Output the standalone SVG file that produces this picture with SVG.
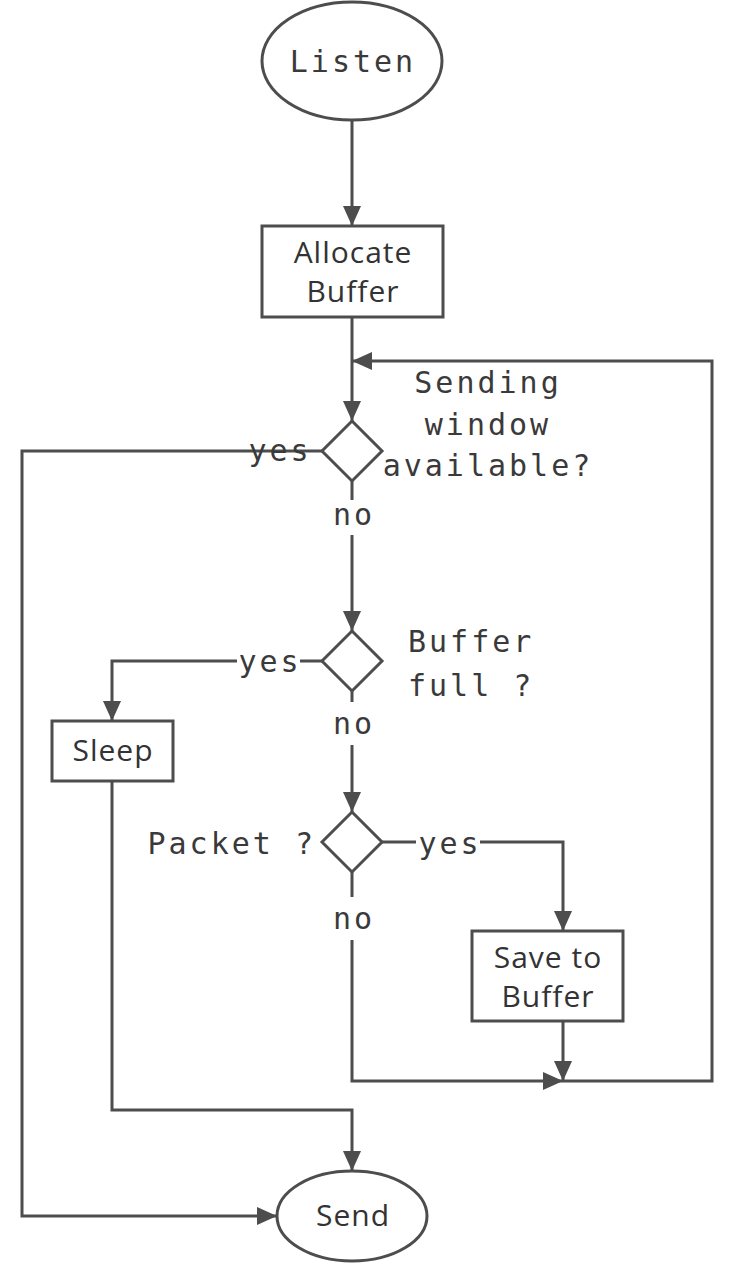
<svg xmlns="http://www.w3.org/2000/svg" width="738" height="1266" viewBox="0 0 738 1266">
<defs>
<style>
.shape{fill:#fff;stroke:#4d4d4d;stroke-width:3}
.edge{fill:none;stroke:#4d4d4d;stroke-width:3}
.sans{font-family:"Open Sans","Lato",sans-serif;font-size:30px;fill:#333;text-anchor:middle;letter-spacing:1px}
.mono{font-family:"DejaVu Sans Mono","Liberation Mono",monospace;font-size:30px;fill:#3a3a3a;letter-spacing:3px}
</style>
<marker id="arr" markerWidth="20" markerHeight="18" refX="20" refY="9" orient="auto" markerUnits="userSpaceOnUse">
<path d="M0,0 L20,9 L0,18 Z" fill="#4d4d4d"/>
</marker>
</defs>
<rect width="738" height="1266" fill="#fff"/>
<g id="connectors">
<path class="edge" d="M352,121 V226" marker-end="url(#arr)"/>
<path class="edge" d="M352,317 V421" marker-end="url(#arr)"/>
<path class="edge" d="M322,451 H22 V1216 H277" marker-end="url(#arr)"/>
<path class="edge" d="M352,481 V500 M352,535 V631" marker-end="url(#arr)"/>
<path class="edge" d="M322,661 H300 M237,661 H112 V721" marker-end="url(#arr)"/>
<path class="edge" d="M352,691 V702 M352,745 V812" marker-end="url(#arr)"/>
<path class="edge" d="M112,781 V1110 H352 V1171" marker-end="url(#arr)"/>
<path class="edge" d="M382,842 H416 M480,842 H563 V931" marker-end="url(#arr)"/>
<path class="edge" d="M352,872 V897 M352,940 V1081 H563" marker-end="url(#arr)"/>
<path class="edge" d="M563,1021 V1081" marker-end="url(#arr)"/>
<path class="edge" d="M563,1081 H712 V361 H352" marker-end="url(#arr)"/>
</g>
<g id="listen">
<ellipse class="shape" cx="352" cy="61" rx="90" ry="59"/>
<text class="mono" x="353" y="72" text-anchor="middle">Listen</text>
</g>
<g id="allocate">
<rect class="shape" x="262" y="226" width="181" height="91"/>
<text class="sans" x="353" y="263">Allocate</text>
<text class="sans" x="353" y="302">Buffer</text>
</g>
<g id="window">
<path class="shape" d="M352,421 L382,451 L352,481 L322,451 Z"/>
<text class="mono" x="488" y="393" text-anchor="middle">Sending</text>
<text class="mono" x="488" y="435" text-anchor="middle">window</text>
<text class="mono" x="488" y="476" text-anchor="middle">available?</text>
<text class="mono" x="280" y="461" text-anchor="middle">yes</text>
<text class="mono" x="354" y="525" text-anchor="middle">no</text>
</g>
<g id="full">
<path class="shape" d="M352,631 L382,661 L352,691 L322,661 Z"/>
<text class="mono" x="408" y="652">Buffer</text>
<text class="mono" x="408" y="696">full ?</text>
<text class="mono" x="270" y="672" text-anchor="middle">yes</text>
<text class="mono" x="354" y="734" text-anchor="middle">no</text>
</g>
<g id="sleep">
<rect class="shape" x="52" y="721" width="121" height="60"/>
<text class="sans" x="113" y="761">Sleep</text>
</g>
<g id="packet">
<path class="shape" d="M352,812 L382,842 L352,872 L322,842 Z"/>
<text class="mono" x="316" y="854" text-anchor="end">Packet ?</text>
<text class="mono" x="450" y="854" text-anchor="middle">yes</text>
<text class="mono" x="354" y="929" text-anchor="middle">no</text>
</g>
<g id="save">
<rect class="shape" x="472" y="931" width="151" height="90"/>
<text class="sans" x="548" y="968">Save to</text>
<text class="sans" x="548" y="1007">Buffer</text>
</g>
<g id="send">
<ellipse class="shape" cx="352" cy="1216" rx="75" ry="45"/>
<text class="sans" x="353" y="1226">Send</text>
</g>
</svg>
